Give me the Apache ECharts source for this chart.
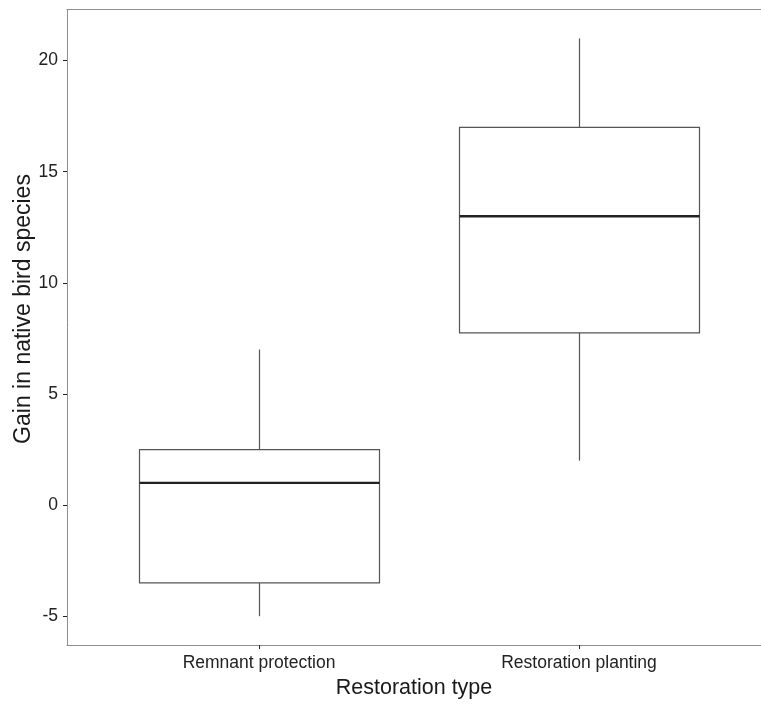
<!DOCTYPE html>
<html>
<head>
<meta charset="utf-8">
<script src="https://cdn.jsdelivr.net/npm/echarts@6/dist/echarts.min.js"></script>
<style>
html,body{margin:0;padding:0;background:#fff;overflow:hidden;}
#chart{width:761px;height:704px;}
</style>
</head>
<body>
<div id="chart"></div>
<script>
// ---- data ----
const categories = ['Remnant protection', 'Restoration planting'];
const categoryPositions = [1, 2];
const minValues = [-5, 2];
const q1Values = [-3.5, 7.75];
const medianValues = [1, 13];
const q3Values = [2.5, 17];
const maxValues = [7, 21];
const yTickValues = [-5, 0, 5, 10, 15, 20];
const xTitle = 'Restoration type';
const yTitle = 'Gain in native bird species';

const boxData = categoryPositions.map((p, i) => [p, minValues[i], q1Values[i], medianValues[i], q3Values[i], maxValues[i]]);

const chart = echarts.init(document.getElementById('chart'), null, {renderer: 'canvas'});
const FONT = '"Liberation Sans", Arial, sans-serif';
const frameLine = {show: true, onZero: false, lineStyle: {color: '#8f8f8f', width: 1}};
const X_MIN = 0.4, X_MAX = 2.56875; // panel continues past the right edge of the picture

chart.setOption({
  animation: false,
  backgroundColor: '#ffffff',
  grid: {left: 67, top: 9.5, right: 0, bottom: 58.3, show: false},
  xAxis: [{
    type: 'value', min: X_MIN, max: X_MAX,
    splitLine: {show: false},
    axisLine: frameLine,
    axisTick: {show: true, inside: false, length: 4, customValues: categoryPositions, lineStyle: {color: '#222', width: 1}},
    axisLabel: {
      customValues: categoryPositions, margin: 9,
      color: '#222', fontSize: 17.5, fontFamily: FONT,
      formatter: v => categories[categoryPositions.indexOf(Math.round(v))] || ''
    },
    name: xTitle, nameLocation: 'middle', nameGap: 30,
    nameTextStyle: {color: '#1a1a1a', fontSize: 21.5, fontFamily: FONT}
  }, {
    type: 'value', position: 'top', min: X_MIN, max: X_MAX,
    splitLine: {show: false}, axisLine: frameLine,
    axisTick: {show: false}, axisLabel: {show: false}
  }],
  yAxis: {
    type: 'value', min: -6.3, max: 22.3,
    splitLine: {show: false},
    axisLine: frameLine,
    axisTick: {show: true, inside: false, length: 4, customValues: yTickValues, lineStyle: {color: '#222', width: 1}},
    axisLabel: {
      customValues: yTickValues, margin: 9,
      color: '#222', fontSize: 17.5, fontFamily: FONT
    }
  },
  graphic: [{
    type: 'text', x: 23.5, y: 309, rotation: Math.PI / 2,
    style: {text: yTitle, fill: '#1a1a1a', fontSize: 23, fontFamily: FONT, align: 'center', verticalAlign: 'middle'}
  }],
  series: [{
    type: 'custom',
    data: boxData,
    xAxisIndex: 0,
    encode: {x: 0, y: [1, 2, 3, 4, 5]},
    renderItem: function (params, api) {
      const x = api.value(0);
      const half = api.size([0.75, 0])[0] / 2;
      const pMin = api.coord([x, api.value(1)]);
      const pQ1 = api.coord([x, api.value(2)]);
      const pMed = api.coord([x, api.value(3)]);
      const pQ3 = api.coord([x, api.value(4)]);
      const pMax = api.coord([x, api.value(5)]);
      const cx = Math.round(pMin[0]) + 0.5;
      const stroke = {stroke: '#555555', lineWidth: 1.2, fill: null};
      return {
        type: 'group',
        children: [
          {type: 'line', shape: {x1: cx, y1: pMax[1], x2: cx, y2: pQ3[1]}, style: stroke},
          {type: 'line', shape: {x1: cx, y1: pQ1[1], x2: cx, y2: pMin[1]}, style: stroke},
          {type: 'rect', shape: {x: cx - half, y: pQ3[1], width: half * 2, height: pQ1[1] - pQ3[1]},
            style: {stroke: '#555555', lineWidth: 1.2, fill: '#ffffff'}},
          {type: 'line', shape: {x1: cx - half, y1: pMed[1], x2: cx + half, y2: pMed[1]},
            style: {stroke: '#222222', lineWidth: 2.4}}
        ]
      };
    }
  }]
});
</script>
</body>
</html>
